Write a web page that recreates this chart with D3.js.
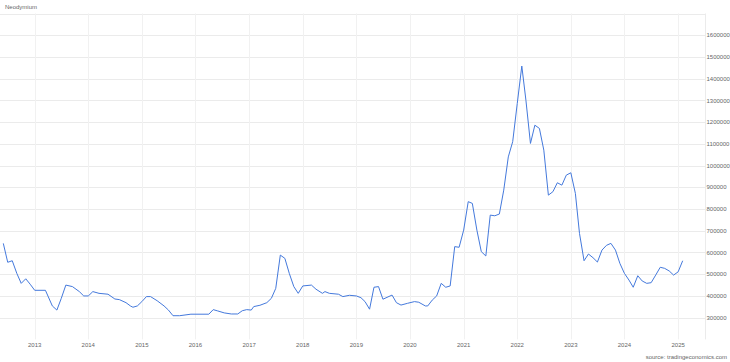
<!DOCTYPE html>
<html>
<head>
<meta charset="utf-8">
<script src="https://cdn.jsdelivr.net/npm/d3@7"></script>
<style>
  body { margin: 0; background: #fff; }
  svg { display: block; font-family: "Liberation Sans", Arial, sans-serif; }
</style>
</head>
<body>
<div id="chart"></div>
<script>
// Neodymium price
var dates = [
  "2012-06-01","2012-07-01","2012-08-01","2012-09-01","2012-10-01","2012-11-01","2012-12-01",
  "2013-01-01","2013-03-15","2013-05-01","2013-06-01","2013-07-01","2013-08-01","2013-09-15","2013-11-01","2013-12-01",
  "2014-01-01","2014-02-01","2014-03-15","2014-05-15","2014-07-01","2014-08-01","2014-09-15","2014-10-15","2014-11-01","2014-12-01",
  "2015-01-01","2015-02-01","2015-03-01","2015-04-15","2015-06-01","2015-07-01","2015-08-01","2015-09-15","2015-12-01",
  "2016-04-01","2016-05-01","2016-06-01","2016-07-15","2016-09-01","2016-10-15","2016-11-15","2016-12-15",
  "2017-01-15","2017-02-01","2017-03-15","2017-05-01","2017-06-01","2017-07-01","2017-08-01","2017-09-01","2017-10-01","2017-11-01","2017-12-01",
  "2018-01-01","2018-03-01","2018-04-01","2018-05-15","2018-06-01","2018-07-01","2018-09-01","2018-10-01","2018-11-15",
  "2019-01-01","2019-02-01","2019-03-01","2019-04-01","2019-05-01","2019-06-01","2019-07-01","2019-09-01","2019-10-01","2019-11-01","2019-12-15",
  "2020-02-01","2020-03-01","2020-04-15","2020-05-01","2020-06-01","2020-07-01","2020-08-01","2020-09-01","2020-10-01","2020-11-01","2020-12-01",
  "2021-01-01","2021-02-01","2021-03-01","2021-04-01","2021-05-01","2021-06-01","2021-07-01","2021-08-01","2021-09-01","2021-10-01","2021-11-01","2021-12-01",
  "2022-01-01","2022-02-01","2022-03-01","2022-04-01","2022-05-01","2022-06-01","2022-07-01","2022-08-01","2022-09-01","2022-10-01","2022-11-01","2022-12-01",
  "2023-01-01","2023-02-01","2023-03-01","2023-04-01","2023-05-01","2023-06-01","2023-07-01","2023-08-01","2023-09-01","2023-10-01","2023-11-01","2023-12-01",
  "2024-01-01","2024-02-01","2024-03-01","2024-04-01","2024-05-01","2024-06-01","2024-07-01","2024-08-01","2024-09-01","2024-10-01","2024-11-01","2024-12-01",
  "2025-01-01","2025-02-01"
];
var prices = [
  642000,555000,562000,504000,458000,479000,454000,
  426000,426000,354000,335000,389000,450000,443000,420000,400000,
  400000,420000,412000,408000,386000,383000,369000,354000,348000,354000,
  374000,397000,397000,378000,354000,335000,309000,309000,316000,
  316000,337000,331000,322000,317000,317000,332000,337000,
  335000,351000,357000,369000,389000,435000,588000,573000,504000,443000,412000,
  446000,450000,431000,412000,420000,412000,408000,397000,403000,
  400000,392000,374000,339000,440000,443000,385000,404000,369000,358000,366000,
  374000,371000,354000,354000,381000,400000,458000,440000,446000,627000,624000,
  703000,834000,826000,703000,604000,584000,772000,769000,777000,887000,1040000,1110000,
  1286000,1458000,1301000,1102000,1186000,1171000,1071000,864000,880000,921000,910000,956000,
  967000,872000,688000,562000,593000,576000,556000,611000,633000,642000,611000,550000,
  504000,473000,440000,493000,469000,458000,461000,496000,532000,527000,515000,496000,
  511000,562000
];
var yTicks = [300000,400000,500000,600000,700000,800000,900000,1000000,1100000,1200000,1300000,1400000,1500000,1600000,1700000];
var xTickYears = [2013,2014,2015,2016,2017,2018,2019,2020,2021,2022,2023,2024,2025];

var svgWidth = 730, svgHeight = 362;
var plot = { left: 0, right: 705, top: 13.5, bottom: 339.4 };
var textColor = "#666";

var parse = d3.timeParse("%Y-%m-%d");
var data = dates.map(function(d, i) { return { date: parse(d), value: prices[i] }; });

var svg = d3.select("#chart").append("svg")
  .attr("width", svgWidth)
  .attr("height", svgHeight);

var x = d3.scaleTime()
  .domain(d3.extent(data, d => d.date))
  .range([3.3, 682.7]);

var y = d3.scaleLinear()
  .domain([200000, 1700000])
  .range([plot.bottom, plot.top]);

// horizontal grid
svg.append("g")
  .selectAll("line")
  .data(yTicks)
  .join("line")
  .attr("x1", plot.left)
  .attr("x2", plot.right)
  .attr("y1", d => Math.round(y(d)) + 0.5)
  .attr("y2", d => Math.round(y(d)) + 0.5)
  .attr("stroke", "#ebebeb")
  .attr("stroke-width", 1);

// vertical grid at year starts
var yearDates = xTickYears.map(yr => new Date(yr, 0, 1));
svg.append("g")
  .selectAll("line")
  .data(yearDates)
  .join("line")
  .attr("x1", d => Math.round(x(d)) + 0.5)
  .attr("x2", d => Math.round(x(d)) + 0.5)
  .attr("y1", plot.top)
  .attr("y2", plot.bottom)
  .attr("stroke", "#f1f1f1")
  .attr("stroke-width", 1);

// right border
svg.append("line")
  .attr("x1", plot.right + 0.5).attr("x2", plot.right + 0.5)
  .attr("y1", plot.top).attr("y2", plot.bottom)
  .attr("stroke", "#ebebeb");

// y labels on the right (the 1700000 line is unlabelled)
svg.append("g")
  .selectAll("text")
  .data(yTicks.filter(d => d < 1700000))
  .join("text")
  .attr("x", plot.right + 1.5)
  .attr("y", d => y(d))
  .attr("dy", "0.35em")
  .attr("font-size", 6)
  .attr("fill", textColor)
  .text(d => d);

// x labels
svg.append("g")
  .selectAll("text")
  .data(yearDates)
  .join("text")
  .attr("x", d => x(d))
  .attr("y", 346.5)
  .attr("text-anchor", "middle")
  .attr("font-size", 6)
  .attr("fill", textColor)
  .text(d => d.getFullYear());

// price line
var line = d3.line()
  .x(d => x(d.date))
  .y(d => y(d.value));

svg.append("path")
  .datum(data)
  .attr("fill", "none")
  .attr("stroke", "#4479dc")
  .attr("stroke-width", 1)
  .attr("stroke-linejoin", "round")
  .attr("d", line);

// title and source
svg.append("text")
  .attr("x", 5)
  .attr("y", 9)
  .attr("font-size", 6)
  .attr("fill", textColor)
  .text("Neodymium");

svg.append("text")
  .attr("x", 727)
  .attr("y", 358.5)
  .attr("text-anchor", "end")
  .attr("font-size", 6)
  .attr("fill", textColor)
  .text("source: tradingeconomics.com");
</script>
</body>
</html>
